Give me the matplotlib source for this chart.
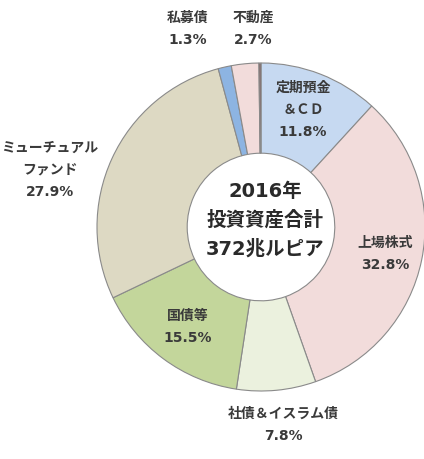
import matplotlib
matplotlib.use("Agg")
import matplotlib.pyplot as plt

plt.rcParams['font.family'] = ['DejaVu Sans', 'Noto Sans CJK JP']

# data (clockwise from 12 o'clock)
labels = ["定期預金\n＆ＣＤ", "上場株式", "社債＆イスラム債", "国債等",
          "ミューチュアル\nファンド", "私募債", "不動産", ""]
shares = [11.8, 32.8, 7.8, 15.5, 27.9, 1.3, 2.7, 0.2]
colors = ["#c6d9f1", "#f2dcdb", "#ebf1de", "#c3d69b",
          "#ddd9c3", "#8db4e2", "#f2dcdb", "#7f6060"]

# label block centres in pixels (x, y from top-left)
label_pos = [(303, 110), (385, 254), (283, 425), (188, 327),
             (50, 170), (188, 29), (253, 29), None]

W, H = 424, 460
cx, cy, R = 261, 228, 164

fig = plt.figure(figsize=(W / 100, H / 100), dpi=100)
ax = fig.add_axes([0, 0, 1, 1])
ax.pie(shares, colors=colors, startangle=90, counterclock=False, radius=1,
       wedgeprops=dict(width=0.55, edgecolor="#8a8a8a", linewidth=0.8))
ax.set_xlim(-cx / R, (W - cx) / R)
ax.set_ylim(-(H - cy) / R, cy / R)
ax.set_aspect("equal")
ax.axis("off")


def px(p):
    return (p[0] - cx) / R, (cy - p[1]) / R


for lab, val, pos in zip(labels, shares, label_pos):
    if pos is None:
        continue
    x, y = px(pos)
    ax.text(x, y, f"{lab}\n{val}%", ha="center", va="center", fontsize=10,
            fontweight="bold", color="#3a3a3a", linespacing=1.75)

x, y = px((265, 220))
ax.text(x, y, "2016年\n投資資産合計\n372兆ルピア", ha="center", va="center",
        fontsize=14, fontweight="bold", color="#2a2a2a", linespacing=1.6)

fig.savefig("out.png", dpi=100)
